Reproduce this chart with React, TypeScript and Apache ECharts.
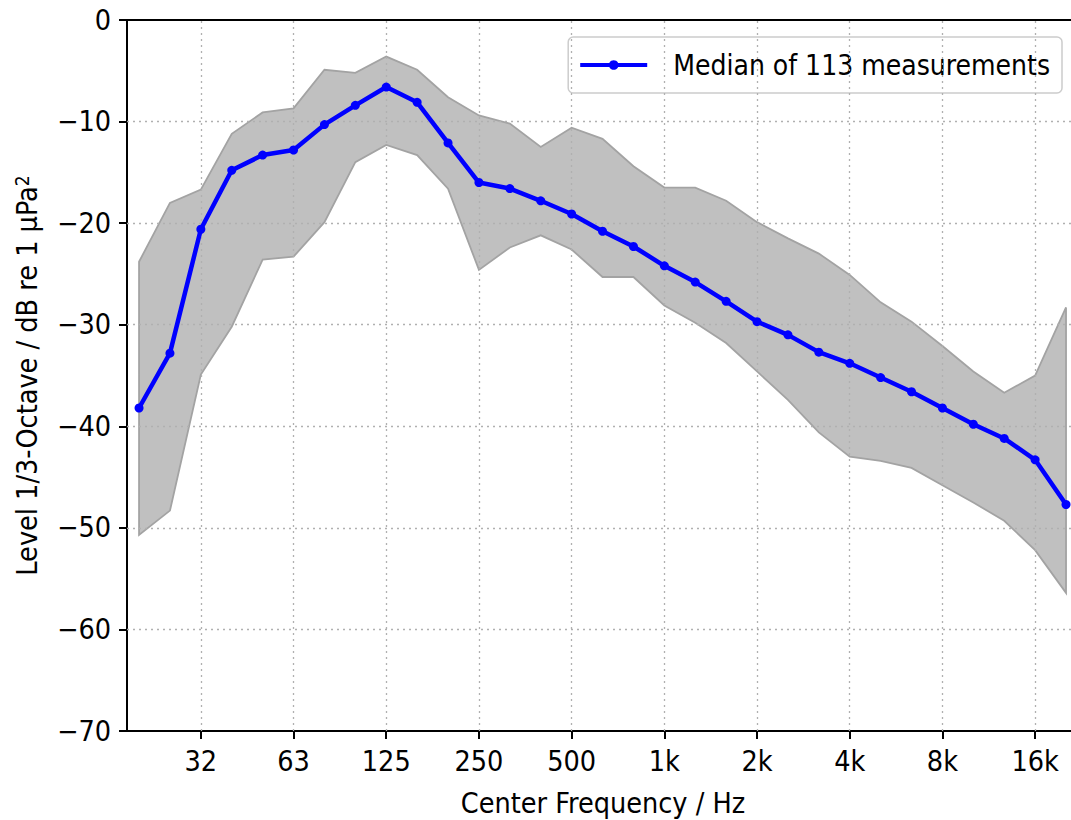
import React, { useEffect, useRef } from "react";
import * as echarts from "echarts";

// Third-octave band centre frequencies (Hz); plotted at band index positions
const bands = ["20", "25", "31.5", "40", "50", "63", "80", "100", "125", "160", "200", "250", "315", "400", "500", "630", "800", "1k", "1.25k", "1.6k", "2k", "2.5k", "3.15k", "4k", "5k", "6.3k", "8k", "10k", "12.5k", "16k", "20k"];

// Median level (dB re 1 µPa²)
const median = [-38.2, -32.8, -20.6, -14.8, -13.3, -12.8, -10.3, -8.4, -6.6, -8.1, -12.1, -16.0, -16.6, -17.8, -19.1, -20.8, -22.3, -24.2, -25.8, -27.7, -29.7, -31.0, -32.7, -33.8, -35.2, -36.6, -38.2, -39.8, -41.2, -43.3, -47.7];
// Upper / lower edges of the shaded range
const upper = [-23.8, -18.0, -16.7, -11.2, -9.1, -8.7, -4.9, -5.2, -3.6, -4.9, -7.6, -9.4, -10.2, -12.5, -10.6, -11.7, -14.4, -16.5, -16.5, -17.8, -19.9, -21.5, -23.0, -25.1, -27.8, -29.7, -32.1, -34.6, -36.7, -35.0, -28.3];
const lower = [-50.7, -48.3, -34.9, -30.2, -23.6, -23.3, -19.9, -14.0, -12.3, -13.3, -16.6, -24.6, -22.4, -21.2, -22.6, -25.3, -25.3, -28.1, -29.8, -31.8, -34.6, -37.4, -40.6, -43.0, -43.4, -44.1, -45.8, -47.5, -49.3, -52.2, -56.4];

// Tick labels and the band positions where they sit
const tickLabels = ["32", "63", "125", "250", "500", "1k", "2k", "4k", "8k", "16k"];
const tickBands = ["31.5", "63", "125", "250", "500", "1k", "2k", "4k", "8k", "16k"];
const yTicks = [0, -10, -20, -30, -40, -50, -60, -70];

const FONT = "'DejaVu Sans Condensed', 'Liberation Sans Narrow', 'DejaVu Sans', sans-serif";
const FS = 28.5;

export default function App() {
  const ref = useRef<HTMLDivElement>(null);
  useEffect(() => {
    if (!ref.current) return;
    const chart = echarts.init(ref.current, undefined, { renderer: "svg" });
    const tickPos = tickBands.map((b) => bands.indexOf(b));
    const medianData = median.map((v, i) => [i, v]);
    const bandPoly = bands.map((_, i) => i);
    const gridDot = { color: "#b0b0b0", width: 1.3, type: [2, 4] as any };

    const markData: any[] = [
      ...tickPos.map((p) => ({ xAxis: p })),
      ...yTicks.slice(1, -1).map((v) => ({ yAxis: v })),
    ];

    chart.setOption({
      animation: false,
      textStyle: { fontFamily: FONT },
      grid: { left: 127, top: 20, right: 6, bottom: 89, containLabel: false, outerBoundsMode: "none" },
      legend: {
        right: 23,
        top: 37,
        orient: "horizontal",
        data: ["Median of 113 measurements"],
        itemWidth: 67,
        itemHeight: 12,
        itemGap: 10,
        padding: [14, 12, 14, 10],
        borderColor: "#cccccc",
        borderWidth: 1.5,
        borderRadius: 5,
        backgroundColor: "rgba(255,255,255,0.85)",
        lineStyle: { width: 4, color: "#0000ff" },
        textStyle: { fontSize: 28, color: "#000", fontFamily: FONT, padding: [0, 0, 0, 21] },
      },
      xAxis: [
        {
          type: "value",
          min: -0.39,
          max: 30.42,
          name: "Center Frequency / Hz",
          nameLocation: "middle",
          nameGap: 58,
          nameTextStyle: { fontSize: FS, color: "#000", fontFamily: FONT },
          axisLine: { show: true, onZero: false, lineStyle: { color: "#000", width: 2 } },
          axisTick: { show: true, customValues: tickPos, length: 8, lineStyle: { color: "#000", width: 2 } },
          axisLabel: {
            show: true,
            customValues: tickPos,
            margin: 16,
            fontSize: FS,
            color: "#000",
            fontFamily: FONT,
            formatter: (v: number) => {
              const k = tickPos.indexOf(Math.round(v));
              return k >= 0 ? tickLabels[k] : "";
            },
          },
          splitLine: { show: false },
        },
        {
          type: "value",
          position: "top",
          min: -0.39,
          max: 30.42,
          axisLine: { show: true, onZero: false, lineStyle: { color: "#000", width: 2 } },
          axisTick: { show: false },
          axisLabel: { show: false },
          splitLine: { show: false },
        },
      ],
      yAxis: {
        type: "value",
        min: -70,
        max: 0,
        interval: 10,
        name: "{a|Level 1/3-Octave / dB re 1 µPa}{b|2}",
        nameLocation: "middle",
        nameGap: 84,
        nameRotate: 90,
        nameTextStyle: {
          fontSize: FS,
          color: "#000",
          fontFamily: FONT,
          rich: {
            a: { fontSize: FS, fontFamily: FONT, color: "#000" },
            b: { fontSize: 19, fontFamily: FONT, color: "#000", verticalAlign: "top", padding: [0, 0, 12, 0] },
          },
        },
        axisLine: { show: true, onZero: false, lineStyle: { color: "#000", width: 2 } },
        axisTick: { show: true, length: 8, lineStyle: { color: "#000", width: 2 } },
        axisLabel: {
          margin: 16,
          fontSize: FS,
          color: "#000",
          fontFamily: FONT,
          formatter: (v: number) => String(v).replace("-", "\u2212"),
        },
        splitLine: { show: false },
      },
      series: [
        {
          type: "custom",
          name: "range",
          z: 1,
          silent: true,
          data: [0],
          renderItem: (params: any, api: any) => {
            const pts: number[][] = [];
            bandPoly.forEach((i) => pts.push(api.coord([i, upper[i]])));
            for (let j = bandPoly.length - 1; j >= 0; j--) pts.push(api.coord([bandPoly[j], lower[bandPoly[j]]]));
            return {
              type: "polygon",
              shape: { points: pts },
              style: { fill: "#c0c0c0", stroke: "#a3a3a3", lineWidth: 1.8 },
            };
          },
        },
        {
          type: "line",
          name: "grid",
          z: 3,
          silent: true,
          data: [],
          markLine: {
            silent: true,
            symbol: "none",
            label: { show: false },
            lineStyle: gridDot,
            emphasis: { disabled: true },
            data: markData,
          },
        },
        {
          type: "line",
          name: "Median of 113 measurements",
          z: 10,
          data: medianData,
          symbol: "circle",
          symbolSize: 9,
          color: "#0000ff",
          lineStyle: { color: "#0000ff", width: 4.5 },
          itemStyle: { color: "#0000ff" },
          emphasis: { disabled: true },
        },
      ],
    });
    return () => chart.dispose();
  }, []);

  return (
    <div style={{ position: "absolute", left: 0, top: 0, width: 1071, height: 820, overflow: "hidden", background: "#fff" }}>
      <div ref={ref} style={{ width: 1085, height: 820 }} />
    </div>
  );
}
